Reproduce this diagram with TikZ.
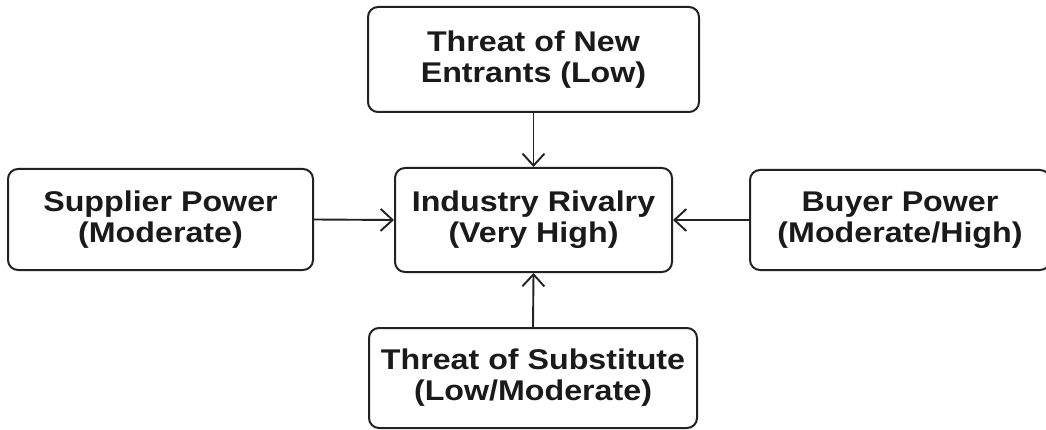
\documentclass[tikz,border=0pt]{standalone}
\usepackage{fontspec}
\setmainfont{Liberation Sans}[FakeStretch=1.13]
\usetikzlibrary{arrows.meta}
\definecolor{boxline}{RGB}{34,34,34}
\definecolor{boxtext}{RGB}{26,26,26}

\begin{document}
\begin{tikzpicture}[x=1pt, y=-1pt,
  force/.style={draw=boxline, line width=2pt, rounded corners=10pt, align=center,
    font=\fontsize{28.5}{31}\selectfont\bfseries, text=boxtext, inner sep=0pt},
  push/.style={draw=boxline, line width=1.9pt, -{Straight Barb[length=12pt,width=22pt]}}]
  \clip (0,0) rectangle (1046,430);
  % the five forces
  \node[force, minimum width=331pt, minimum height=105pt] (entrants) at (533.5, 59.5) {Threat of New\\Entrants (Low)};
  \node[force, minimum width=277pt, minimum height=104pt] (rivalry) at (533.5, 220) {Industry Rivalry\\(Very High)};
  \node[force, minimum width=305pt, minimum height=101pt] (supplier) at (160.5, 219.5) {Supplier Power\\(Moderate)};
  \node[force, minimum width=300pt, minimum height=100pt] (buyer) at (900, 220) {Buyer Power\\(Moderate/High)};
  \node[force, minimum width=328pt, minimum height=100pt] (substitute) at (533, 378) {Threat of Substitute\\(Low/Moderate)};

  % pressure on the rivalry
  \draw[push] (entrants.south) -- (rivalry.north);
  \draw[push] (supplier.east) -- (rivalry.west);
  \draw[push] (buyer.west) -- (rivalry.east);
  \draw[push] (substitute.north) -- (rivalry.south);
\end{tikzpicture}
\end{document}
